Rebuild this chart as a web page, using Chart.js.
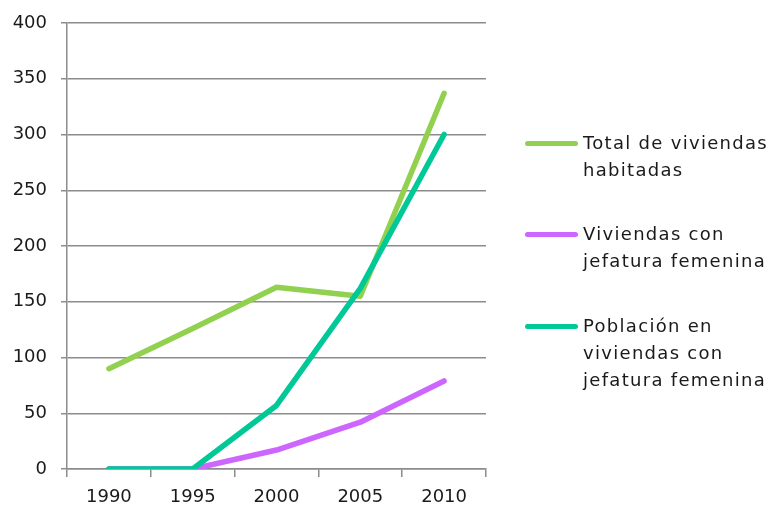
<!DOCTYPE html>
<html>
<head>
<meta charset="utf-8">
<script src="https://cdn.jsdelivr.net/npm/chart.js@4/dist/chart.umd.min.js"></script>
<style>
  html, body { margin: 0; padding: 0; background: #fff; }
  #wrap { position: relative; width: 774px; height: 506px; }
  canvas { position: absolute; left: 0; top: 0; }
  #legend { position: absolute; left: 525px; top: 0; font-family: "DejaVu Sans", sans-serif; font-size: 18px; letter-spacing: 1.3px; color: #1a1a1a; }
  .item { position: absolute; left: 0; white-space: nowrap; }
  .swatch { position: absolute; left: 0; width: 53px; height: 5px; border-radius: 3px; }
  .text { position: absolute; left: 58px; line-height: 27px; }
</style>
</head>
<body>
<div id="wrap">
  <canvas id="chart" width="774" height="506"></canvas>
  <div id="legend"></div>
</div>
<script>
const years = ["1990", "1995", "2000", "2005", "2010"]
const totalViviendas = [90, 126, 163, 155, 337]
const jefaturaFemenina = [0, 0, 17, 42, 79]
const poblacionJefatura = [0, 0, 57, 162, 300]

const seriesNames = [
  ["Total de viviendas", "habitadas"],
  ["Viviendas con", "jefatura femenina"],
  ["Población en", "viviendas con", "jefatura femenina"]
]
const seriesColors = ["#92d050", "#cc66ff", "#00c896"]

const gridColor = "#8c8c8c"
const font = { family: "DejaVu Sans", size: 18 }

const ctx = document.getElementById("chart")
const values = [totalViviendas, jefaturaFemenina, poblacionJefatura]

new Chart(ctx, {
  type: "line",
  data: {
    labels: years,
    datasets: values.map((data, i) => ({
      label: seriesNames[i].join(" "),
      data: data,
      borderColor: seriesColors[i],
      backgroundColor: seriesColors[i],
      borderWidth: 5.5,
      pointRadius: 0,
      tension: 0,
      borderCapStyle: "round",
      borderJoinStyle: "round",
      order: 2 - i
    }))
  },
  options: {
    responsive: false,
    animation: false,
    layout: {
      padding: { top: 23, right: 288, left: 0, bottom: 0 }
    },
    plugins: {
      legend: { display: false },
      tooltip: { enabled: false }
    },
    scales: {
      x: {
        offset: true,
        afterFit: (scale) => { scale.height = 37 },
        grid: {
          offset: true,
          drawOnChartArea: false,
          drawTicks: true,
          tickLength: 8,
          color: gridColor,
          lineWidth: 1.5
        },
        border: { color: gridColor, width: 1.5 },
        ticks: { color: "#1a1a1a", font: font, padding: 10, maxRotation: 0 }
      },
      y: {
        min: 0,
        max: 400,
        afterFit: (scale) => {
          scale.width = 67
          scale.paddingTop = 0
        },
        grid: {
          color: gridColor,
          lineWidth: 1.5,
          tickLength: 6
        },
        border: { color: gridColor, width: 1.5 },
        ticks: { stepSize: 50, color: "#1a1a1a", font: font, padding: 14 }
      }
    }
  }
})

const legend = document.getElementById("legend")
const tops = [143, 234, 326]
seriesNames.forEach((lines, i) => {
  const item = document.createElement("div")
  item.className = "item"
  item.style.top = tops[i] + "px"
  const sw = document.createElement("div")
  sw.className = "swatch"
  sw.style.background = seriesColors[i]
  sw.style.top = "-2px"
  const tx = document.createElement("div")
  tx.className = "text"
  tx.style.top = "-14px"
  tx.innerHTML = lines.join("<br>")
  item.appendChild(sw)
  item.appendChild(tx)
  legend.appendChild(item)
})
</script>
</body>
</html>
